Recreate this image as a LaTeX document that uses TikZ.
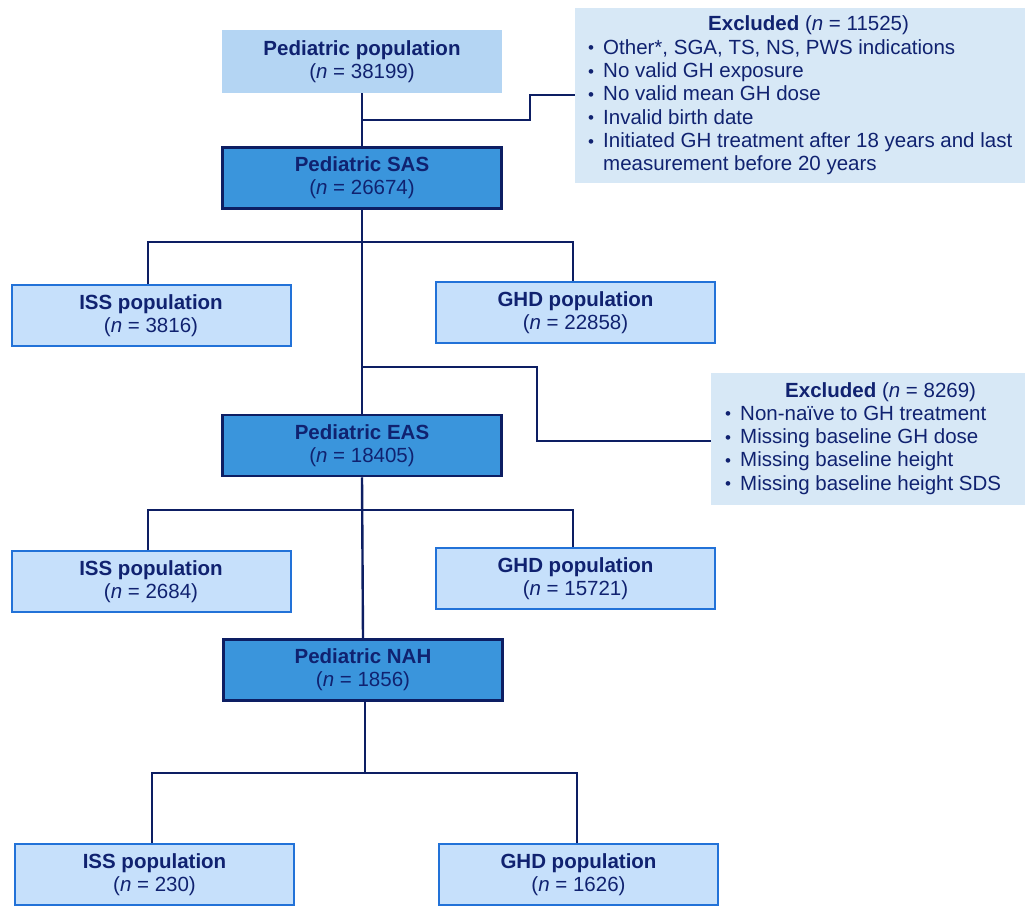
\documentclass[tikz,border=0pt]{standalone}
\usepackage{fontspec}
\setmainfont{Liberation Sans}
\definecolor{txt}{HTML}{102270}
\definecolor{navy}{HTML}{0D1E63}
\definecolor{topfill}{HTML}{B4D5F3}
\definecolor{darkfill}{HTML}{3A95DC}
\definecolor{popfill}{HTML}{C6E0FB}
\definecolor{popborder}{HTML}{2272D8}
\definecolor{exfill}{HTML}{D7E8F6}
\newcommand\bitem[1]{\par\hangindent=15pt\hangafter=1\noindent\makebox[15pt][l]{\fontsize{17}{20}\selectfont\raisebox{0.5pt}{•}}#1}
\tikzset{
  base/.style={rectangle, minimum width=279pt, minimum height=61pt, inner sep=0pt, align=center, text=txt, font=\fontsize{20.5}{23}\selectfont},
  topbox/.style={base, fill=topfill},
  darkbox/.style={base, fill=darkfill, draw=navy, line width=2.5pt},
  popbox/.style={base, fill=popfill, draw=popborder, line width=2pt},
  exbox/.style={rectangle, fill=exfill, inner sep=0pt, anchor=north west},
  extext/.style={anchor=base west, inner sep=0pt, text=txt},
  link/.style={draw=navy, line width=2.4pt}
}
\begin{document}
\begin{tikzpicture}[x=1pt,y=-1pt]
\useasboundingbox (0,0) rectangle (1025,907);
% boxes
\node[topbox, minimum width=280pt, minimum height=63pt] (pop) at (362,61.5) {\textbf{Pediatric population}\\(\textit{n} = 38199)};
\node[darkbox] (sas) at (362,178) {\textbf{Pediatric SAS}\\(\textit{n} = 26674)};
\node[popbox] (iss1) at (151,315.5) {\textbf{ISS population}\\(\textit{n} = 3816)};
\node[popbox] (ghd1) at (575.5,312.5) {\textbf{GHD population}\\(\textit{n} = 22858)};
\node[darkbox] (eas) at (362,445.5) {\textbf{Pediatric EAS}\\(\textit{n} = 18405)};
\node[popbox] (iss2) at (151,581.5) {\textbf{ISS population}\\(\textit{n} = 2684)};
\node[popbox] (ghd2) at (575.5,578.5) {\textbf{GHD population}\\(\textit{n} = 15721)};
\node[darkbox] (nah) at (363,670) {\textbf{Pediatric NAH}\\(\textit{n} = 1856)};
\node[popbox] (iss3) at (154.5,874.5) {\textbf{ISS population}\\(\textit{n} = 230)};
\node[popbox] (ghd3) at (578.5,874.5) {\textbf{GHD population}\\(\textit{n} = 1626)};
% excluded boxes
\node[exbox, minimum width=450pt, minimum height=175pt] (ex1) at (575,8) {};
\node[extext] (ex1t) at (588,31) {\parbox[t]{440pt}{\fontsize{20.5}{23.3}\selectfont\raggedright
\hspace*{120pt}\textbf{Excluded} (\textit{n} = 11525)
\bitem{Other*, SGA, TS, NS, PWS indications}
\bitem{No valid GH exposure}
\bitem{No valid mean GH dose}
\bitem{Invalid birth date}
\bitem{Initiated GH treatment after 18 years and last\newline measurement before 20 years}}};
\node[exbox, minimum width=314pt, minimum height=132pt] (ex2) at (711,373) {};
\node[extext] (ex2t) at (725,397) {\parbox[t]{300pt}{\fontsize{20.5}{23.3}\selectfont\raggedright
\hspace*{60pt}\textbf{Excluded} (\textit{n} = 8269)
\bitem{Non-naïve to GH treatment}
\bitem{Missing baseline GH dose}
\bitem{Missing baseline height}
\bitem{Missing baseline height SDS}}};
% coordinates
\coordinate (b1) at (362,120);
\coordinate (k1) at (530,95);
\coordinate (h1) at (362,242);
\coordinate (b2) at (362,367);
\coordinate (k2) at (537,441);
\coordinate (h2) at (362.4,510);
\coordinate (h3) at (365,773);
% connectors
\draw[link] (pop.south) -- (sas.north);
\draw[link] (b1) -| (k1) -- (k1 -| ex1.west);
\draw[link] (sas.south) -- (eas.north);
\draw[link] ([xshift=-3pt]iss1.north) |- (h1) -| ([xshift=-2.5pt]ghd1.north);
\draw[link] (b2) -| (k2) -- (k2 -| ex2.west);
\draw[link] (eas.south) -- (nah.north);
\draw[link] ([xshift=-3pt]iss2.north) |- (h2) -| ([xshift=-2.5pt]ghd2.north);
\draw[link] ([xshift=2pt]nah.south) -- (h3);
\draw[link] ([xshift=-2.5pt]iss3.north) |- (h3) -| ([xshift=-1.5pt]ghd3.north);
\end{tikzpicture}
\end{document}
